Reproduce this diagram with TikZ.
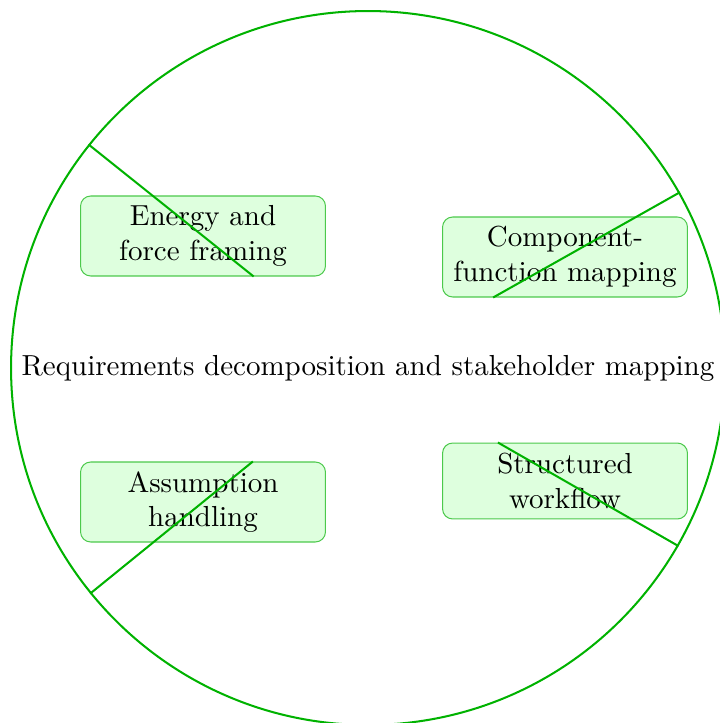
\documentclass[tikz,border=0pt]{standalone}
\begin{document}
\begin{tikzpicture}[x=0.345pt,y=-0.345pt,
  hub/.style={circle,draw=green!70!black,line width=0.7pt,minimum size=246.3pt,inner sep=0pt},
  topic/.style={draw=green!70!black!70,fill=green!13,rounded corners=3.5pt,line width=0.35pt,
    minimum width=84.5pt,minimum height=27.6pt,align=center,inner sep=2pt},
  link/.style={draw=green!70!black,line width=0.7pt}]
\useasboundingbox (0,0) rectangle (719,723);
\node[hub] (c) at (368,368) {Requirements decomposition and stakeholder mapping};
\node[topic] (e) at (203,236) {Energy and\\force framing};
\node[topic] (m) at (565,257) {Component-\\function mapping};
\node[topic] (a) at (203,502) {Assumption\\handling};
\node[topic,minimum height=26.2pt] (s) at (565,481) {Structured\\workflow};
\draw[link] (c) -- (e);
\draw[link] (c) -- (m);
\draw[link] (c) -- (a);
\draw[link] (c) -- (s);
\end{tikzpicture}
\end{document}
